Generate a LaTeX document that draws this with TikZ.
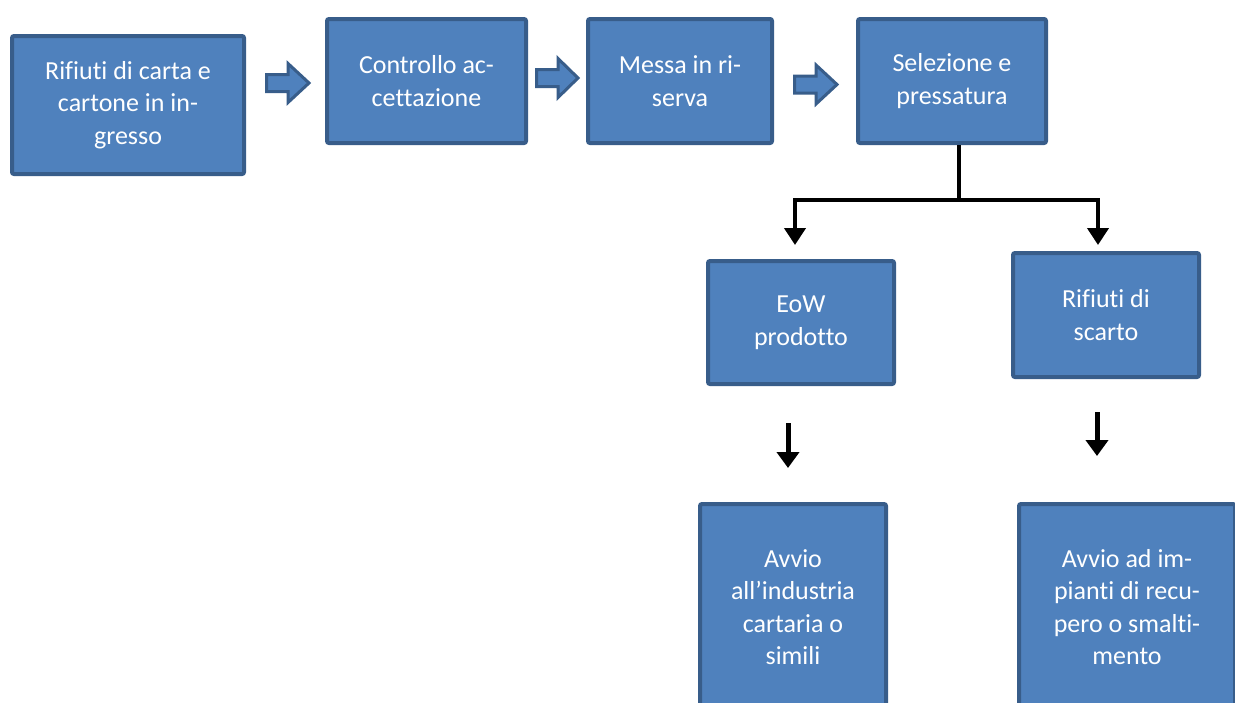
\documentclass[tikz,border=0pt]{standalone}
\usepackage{fontspec}
\setmainfont[Ligatures=NoCommon]{Carlito}
\usetikzlibrary{arrows.meta}
\definecolor{boxfill}{HTML}{4F81BD}
\definecolor{boxline}{HTML}{385D8A}
\tikzset{
  stepbox/.style={draw=boxline, fill=boxfill, line width=4pt, rounded corners=2pt,
    text=white, align=center, inner sep=0pt,
    font=\fontsize{26}{32.5}\selectfont},
  blockarr/.style={draw=boxline, fill=boxfill, line width=3pt, line join=miter},
  tree/.style={line width=4pt, black},
  tip/.style={-{Triangle[width=21pt,length=17pt]}},
}
\begin{document}
\begin{tikzpicture}[x=1pt,y=-1pt]
\useasboundingbox (0,0) rectangle (1235,702);
\fill[white] (0,0) rectangle (1235,702);
% boxes
\node[stepbox, minimum width=232pt, minimum height=138pt] (in) at (128,105) {Rifiuti di carta e\\cartone in in-\\gresso};
\node[stepbox, minimum width=199pt, minimum height=124pt] (ctrl) at (426.5,81) {Controllo ac-\\cettazione};
\node[stepbox, minimum width=184pt, minimum height=124pt] (ris) at (680,81) {Messa in ri-\\serva};
\node[stepbox, minimum width=188pt, minimum height=124pt] (sel) at (952,81) {Selezione e\\pressatura};
\node[stepbox, minimum width=186pt, minimum height=123pt] (eow) at (801,322.5) {EoW\\prodotto};
\node[stepbox, minimum width=186pt, minimum height=124pt] (scarto) at (1106,315) {Rifiuti di\\scarto};
\node[stepbox, minimum width=186pt, minimum height=206pt] (avvio1) at (793,607) {Avvio\\all’industria\\cartaria o\\simili};
\node[stepbox, minimum width=216pt, minimum height=206pt] (avvio2) at (1127,607) {Avvio ad im-\\pianti di recu-\\pero o smalti-\\mento};
% block arrows
\newcommand{\blockarrow}[4]{% x0, xh, x1, yc
  \draw[blockarr] (#1+1.5,#4-8.5) -- (#2,#4-8.5) -- (#2,#4-19.5) -- (#3-2,#4) -- (#2,#4+19.5) -- (#2,#4+8.5) -- (#1+1.5,#4+8.5) -- cycle;}
\blockarrow{265}{288}{311}{83}
\blockarrow{535}{558}{580}{78}
\blockarrow{793}{816}{839}{84.5}
% tree connector
\coordinate (stem) at (959,145);
\coordinate (junc) at (959,200);
\coordinate (lt) at (795,245);
\coordinate (rt) at (1098,245);
\draw[tree] (stem) -- (junc);
\draw[tree, tip] (junc) -| (lt);
\draw[tree, tip] (junc) -| (rt);
% lower arrows
\coordinate (a1s) at (788,423);
\coordinate (a1e) at (788,468);
\coordinate (a2s) at (1097,412);
\coordinate (a2e) at (1097,456);
\draw[line width=5pt, -{Triangle[width=22pt,length=16pt]}] (a1s) -- (a1e);
\draw[line width=5pt, -{Triangle[width=22pt,length=16pt]}] (a2s) -- (a2e);
\end{tikzpicture}
\end{document}
